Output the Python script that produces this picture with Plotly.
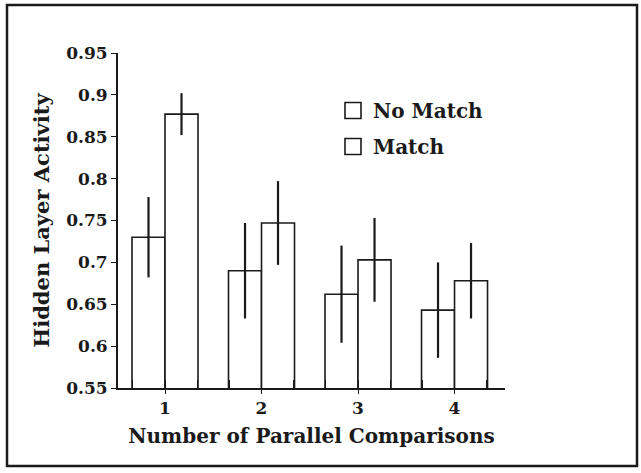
import plotly.graph_objects as go

categories = [1, 2, 3, 4]
no_match = [0.730, 0.690, 0.662, 0.643]
no_match_err = [0.048, 0.057, 0.058, 0.057]
match = [0.877, 0.747, 0.703, 0.678]
match_err = [0.025, 0.050, 0.050, 0.045]
y_ticks = [0.55, 0.6, 0.65, 0.7, 0.75, 0.8, 0.85, 0.9, 0.95]
series_names = ["No Match", "Match"]

FONT = "DejaVu Serif"
INK = "#1a1a1a"

fig = go.Figure()
for vals, errs in [(no_match, no_match_err), (match, match_err)]:
    fig.add_trace(go.Bar(
        x=categories, y=vals, showlegend=False,
        marker=dict(color="white", line=dict(color=INK, width=1.6)),
        error_y=dict(type="data", array=errs, color=INK, thickness=2.2, width=0),
    ))
# legend entries (hollow squares, like the printed key)
for i, nm in enumerate(series_names):
    fig.add_trace(go.Scatter(
        x=[None], y=[None], mode="markers", name="<b>%s</b>" % nm,
        legendgroup="g%d" % i,
        marker=dict(symbol="square-open", size=22, color=INK, line=dict(width=1.6)),
    ))

L, R, T, B = 118, 136, 53, 85
W, H = 641, 473
pw, ph = W - L - R, H - T - B

def px(xp):
    return (xp - L) / pw

def py(yp):
    return (H - B - yp) / ph

fig.update_layout(
    width=W, height=H,
    margin=dict(l=L, r=R, t=T, b=B),
    paper_bgcolor="white", plot_bgcolor="white",
    barmode="group", bargap=0.316, bargroupgap=0,
    font=dict(family=FONT, color=INK),
    legend=dict(
        x=px(333), y=py(91), xanchor="left", yanchor="top",
        font=dict(size=20, family=FONT, color=INK),
        bgcolor="rgba(0,0,0,0)", tracegroupgap=7,
        itemsizing="trace", itemwidth=30,
    ),
    xaxis=dict(
        range=[0.513, 4.523], tickmode="array", tickvals=categories,
        ticktext=["<b>%d</b>" % c for c in categories],
        ticks="outside", ticklen=4, tickwidth=1.2, tickcolor=INK,
        showline=True, linecolor=INK, linewidth=1.8, showgrid=False, zeroline=False,
        tickfont=dict(size=17, family=FONT, color=INK),
        minor=dict(dtick=1/3, tick0=0, ticks="inside", ticklen=8, tickwidth=1, tickcolor=INK),
        title=dict(text="<b>Number of Parallel Comparisons</b>", font=dict(size=20, family=FONT, color=INK), standoff=12),
    ),
    yaxis=dict(
        range=[0.55, 0.95], tickmode="array", tickvals=y_ticks,
        ticktext=["<b>%g</b>" % v for v in y_ticks],
        ticks="outside", ticklen=5, tickwidth=1.2, tickcolor=INK,
        showline=True, linecolor=INK, linewidth=1.8, showgrid=False, zeroline=False,
        tickfont=dict(size=17, family=FONT, color=INK),
        title=dict(text="<b>Hidden Layer Activity</b>", font=dict(size=21, family=FONT, color=INK), standoff=11),
    ),
    shapes=[dict(
        type="rect", xref="paper", yref="paper",
        x0=px(7), x1=px(637), y0=py(466), y1=py(5),
        line=dict(color=INK, width=2.5), fillcolor="rgba(0,0,0,0)", layer="below",
    )],
)

fig.write_html(
    "out.html",
    config={"displayModeBar": False},
    post_script="document.body.style.margin='0';document.body.style.overflow='hidden';",
)
